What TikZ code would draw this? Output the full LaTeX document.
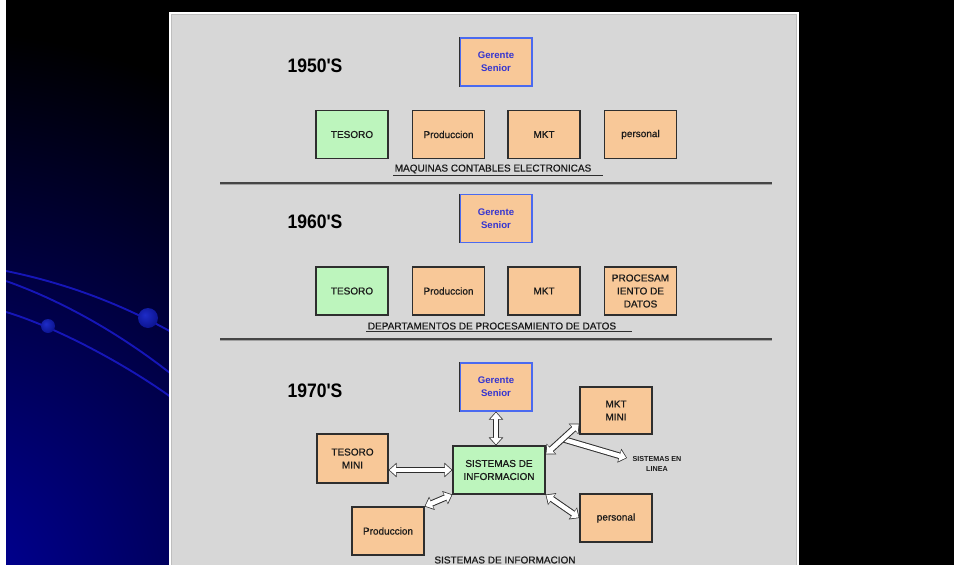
\documentclass[tikz,border=0pt]{standalone}
\usepackage{fontspec}
\usepackage{graphicx}
\setmainfont{Liberation Sans}
\newfontfamily\heavysans{Liberation Sans}[FakeBold=0.7]
\usetikzlibrary{arrows.meta,calc}

\definecolor{panel}{HTML}{D7D7D7}
\definecolor{panelrim}{HTML}{BEBEBE}
\definecolor{peach}{HTML}{F8C898}
\definecolor{mint}{HTML}{BDF5BD}
\definecolor{edge}{HTML}{2E2E2E}
\definecolor{gblue}{HTML}{4A6AF0}
\definecolor{gtext}{HTML}{3535D0}
\definecolor{ink}{HTML}{1A1A1A}
\definecolor{rule}{HTML}{454545}
\definecolor{ruleshade}{HTML}{A0A0A0}
\definecolor{swirl}{HTML}{1616B8}
\definecolor{deepblue}{HTML}{0000A0}
\definecolor{orbcore}{HTML}{1E2CC8}
\definecolor{orbmid}{HTML}{0C1490}
\definecolor{orbrim}{HTML}{060A5C}

\pgfdeclareradialshading{orbshade}{\pgfpoint{-8bp}{8bp}}{%
  color(0bp)=(orbcore); color(30bp)=(orbmid); color(50bp)=(orbrim); color(70bp)=(orbrim)}

\begin{document}
\begin{tikzpicture}[x=1pt,y=-1pt,
  box/.style={draw=edge, line width=1.1pt, fill=peach, minimum width=72pt,
    minimum height=48pt, inner sep=0pt, align=center, text=ink,
    font=\heavysans\fontsize{10}{13}\selectfont},
  greenbox/.style={box, fill=mint},
  boss/.style={box, draw=gblue, line width=1.2pt, text=gtext,
    font=\bfseries\fontsize{9.6}{13}\selectfont},
  decade/.style={font=\bfseries\fontsize{19.5}{20}\selectfont, text=black, inner sep=0pt},
  caption/.style={font=\heavysans\fontsize{10}{12}\selectfont, text=ink, inner sep=1.5pt},
  uline/.style={draw=edge, line width=0.9pt},
  hairline/.style={rule, line width=2pt},
  arrowbase/.style={draw=white, line width=4.5pt, shorten <=1pt, shorten >=1pt},
  harrow/.style={
    preaction={draw=edge, line width=6.5pt, shorten <=0pt, shorten >=0pt,
      {Triangle[length=8pt,width=14pt]}-{Triangle[length=8pt,width=14pt]}},
    arrowbase,
    {Triangle[length=6.5pt,width=11pt]}-{Triangle[length=6.5pt,width=11pt]}},
  sarrow/.style={
    preaction={draw=edge, line width=6.5pt, shorten <=0pt, shorten >=0pt,
      -{Triangle[length=8pt,width=14pt]}},
    arrowbase, shorten <=0pt,
    -{Triangle[length=6.5pt,width=11pt]}}
]
\useasboundingbox (0,0) rectangle (954,565);

% backdrop
\fill[black] (0,0) rectangle (954,565);
\fill[white] (0,0) rectangle (6,565);
\begin{scope}
  \clip (6,0) rectangle (171,565);
  \shade[inner color=deepblue, outer color=black] (-60,600) circle[radius=570];
  \draw[swirl, line width=1.9pt] (6,271) .. controls (70,284) and (125,306) .. (175,334);
  \draw[swirl, line width=1.9pt] (6,281) .. controls (60,300) and (120,333) .. (175,377);
  \draw[swirl, line width=1.9pt] (6,312) .. controls (50,325) and (120,360) .. (175,400);
  \shade[shading=orbshade] (148,318) circle[radius=10];
  \shade[shading=orbshade] (48,326) circle[radius=7];
\end{scope}

% panel
\fill[white] (169,12) rectangle (799,570);
\filldraw[fill=panel, draw=panelrim, line width=1pt] (171.5,14.5) rectangle (796.5,570);

% section rules
\draw[hairline] (220,182.5) -- (772,182.5);
\draw[ruleshade, line width=0.8pt] (220,184.2) -- (772,184.2);
\draw[hairline] (220,338.5) -- (772,338.5);
\draw[ruleshade, line width=0.8pt] (220,340.2) -- (772,340.2);

% ---- 1950's
\node[decade] (d50) at (315,66) {\scalebox{0.9}[1]{1950\textquotesingle S}};
\node[boss] (g1) at (496,62) {Gerente\\Senior};
\draw[edge, line width=1.6pt] (g1.north west) -- (g1.south west);
\node[greenbox] (t1) at (352,134.5) {TESORO};
\node[box] (p1) at (448.5,134.5) {Produccion};
\node[box] (m1) at (544,134.5) {MKT};
\node[box] (s1) at (640.5,134.5) {personal};
\node[caption] (c1) at (493,169) {MAQUINAS CONTABLES ELECTRONICAS};
\draw[uline] (c1.south west) -- ([xshift=10pt]c1.south east);

% ---- 1960's
\node[decade] (d60) at (315,222) {\scalebox{0.9}[1]{1960\textquotesingle S}};
\node[boss] (g2) at (496,218.5) {Gerente\\Senior};
\draw[edge, line width=1.6pt] (g2.north west) -- (g2.south west);
\node[greenbox] (t2) at (352,291) {TESORO};
\node[box] (p2) at (448.5,291) {Produccion};
\node[box] (m2) at (544,291) {MKT};
\node[box] (s2) at (640.5,291) {PROCESAM\\IENTO DE\\DATOS};
\node[caption] (c2) at (492,326) {DEPARTAMENTOS DE PROCESAMIENTO DE DATOS};
\draw[uline] (c2.south west) -- ([xshift=14pt]c2.south east);

% ---- 1970's
\node[decade] (d70) at (315,391) {\scalebox{0.9}[1]{1970\textquotesingle S}};
\node[boss] (g3) at (496,387) {Gerente\\Senior};
\draw[edge, line width=1.6pt] (g3.north west) -- (g3.south west);
\node[box, minimum height=47pt] (mm) at (616,410.5) {MKT\\MINI};
\node[box, minimum width=71pt, minimum height=49pt] (tm) at (352.5,458.5) {TESORO\\MINI};
\node[greenbox, minimum width=92pt] (si) at (499,470) {SISTEMAS DE\\INFORMACION};
\node[box] (p3) at (388,531) {Produccion};
\node[box] (pe) at (616,518) {personal};
\node[font=\bfseries\fontsize{7.2}{10}\selectfont, text=ink, align=center, inner sep=0pt]
  (sel) at (657,464) {SISTEMAS EN\\LINEA};
\node[caption] (c3) at (505,560) {SISTEMAS DE INFORMACION};

% flows around the information systems box
\draw[harrow] (g3.south) -- (g3.south |- si.north);
\draw[harrow] (si.west -| tm.east) -- (si.west);
\draw[harrow] (p3.north east) -- (si.south west);
\path ([yshift=-9pt]si.north east) -- ([yshift=11pt]mm.south west) coordinate[pos=0.5] (branch);
\coordinate (selin) at (627,458);
\draw[sarrow] (branch) -- (selin);
\draw[harrow] ([yshift=-9pt]si.north east) -- ([yshift=11pt]mm.south west);
\draw[harrow] (si.south east) -- (pe.west);
\end{tikzpicture}
\end{document}
